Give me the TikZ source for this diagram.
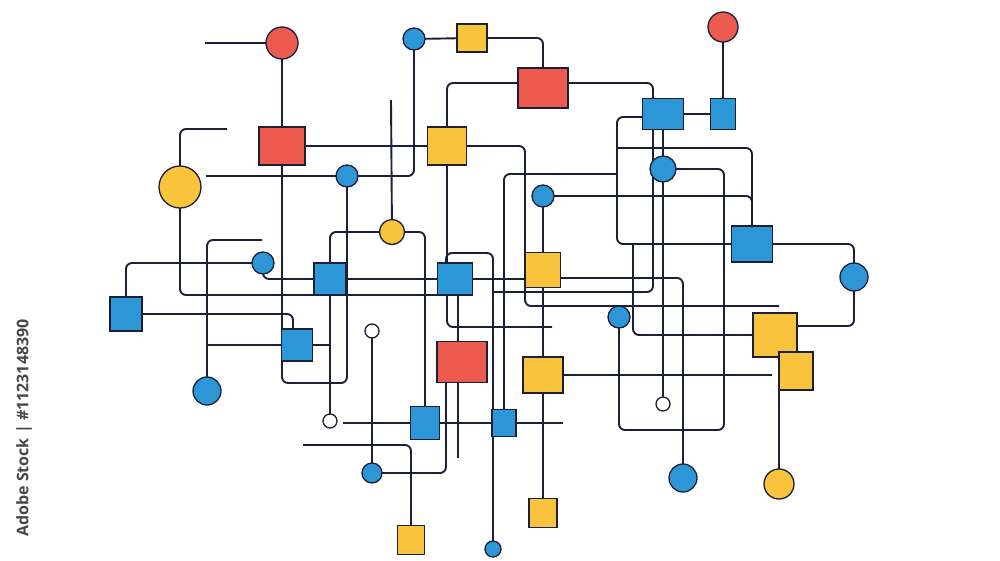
\documentclass[tikz,border=0pt]{standalone}
\usepackage{fontspec}
\setmainfont{Open Sans}
\usetikzlibrary{calc}
\definecolor{ln}{RGB}{27,31,56}
\definecolor{rd}{RGB}{237,90,78}
\definecolor{yl}{RGB}{250,195,60}
\definecolor{bl}{RGB}{45,150,214}
\pgfdeclarelayer{bg}
\pgfsetlayers{bg,main}
\tikzset{
  wire/.style={draw=ln, line width=1.9pt, rounded corners=6pt},
  shp/.style={draw=ln, line width=1.3pt, inner sep=0pt, outer sep=0pt},
  rbox/.style 2 args={shp, rectangle, minimum width=#1, minimum height=#2},
  dot/.style={shp, circle, minimum size=#1},
}
\begin{document}
\begin{tikzpicture}[x=1pt,y=-1pt]
\useasboundingbox (0,0) rectangle (1000,560);
% nodes
\node[dot=32pt, fill=rd] (A) at (282,43) {};
\node[dot=22pt, fill=bl] (B) at (414,39) {};
\node[rbox={30pt}{28pt}, fill=yl] (C) at (472,38) {};
\node[dot=30pt, fill=rd] (D) at (723,27) {};
\node[rbox={50pt}{40pt}, fill=rd] (E) at (543,88) {};
\node[rbox={41pt}{31pt}, fill=bl] (F) at (663,114) {};
\node[rbox={25pt}{31pt}, fill=bl] (G) at (723,114) {};
\node[rbox={46pt}{38pt}, fill=rd] (H) at (282,146) {};
\node[rbox={39pt}{38pt}, fill=yl] (I) at (447,146) {};
\node[dot=42pt, fill=yl] (J) at (180,187) {};
\node[dot=22pt, fill=bl] (K) at (347,176) {};
\node[dot=26pt, fill=bl] (L) at (663,169) {};
\node[dot=22pt, fill=bl] (M) at (543,196) {};
\node[dot=25pt, fill=yl] (N) at (392,232) {};
\node[rbox={41pt}{36pt}, fill=bl] (O) at (752,244) {};
\node[dot=22pt, fill=bl] (P) at (263,263) {};
\node[rbox={32pt}{32pt}, fill=bl] (Q) at (330,279) {};
\node[rbox={35pt}{32pt}, fill=bl] (R) at (455,279) {};
\node[rbox={35pt}{35pt}, fill=yl] (S) at (543,270) {};
\node[dot=28pt, fill=bl] (T) at (854,277) {};
\node[rbox={32pt}{34pt}, fill=bl] (U) at (126,314) {};
\node[dot=22pt, fill=bl] (V) at (619,317) {};
\node[rbox={44pt}{44pt}, fill=yl] (W) at (775,335) {};
\node[rbox={34pt}{38pt}, fill=yl] (X) at (796,371) {};
\node[dot=14pt, fill=white] (Y) at (372,331) {};
\node[rbox={31pt}{32pt}, fill=bl] (Z) at (297,345) {};
\node[rbox={50pt}{41pt}, fill=rd] (AA) at (462,362) {};
\node[rbox={40pt}{36pt}, fill=yl] (AB) at (543,375) {};
\node[dot=28pt, fill=bl] (AC) at (207,391) {};
\node[dot=14pt, fill=white] (AD) at (330,421) {};
\node[rbox={29pt}{33pt}, fill=bl] (AE) at (425,423) {};
\node[rbox={24pt}{27pt}, fill=bl] (AF) at (504,423) {};
\node[dot=14pt, fill=white] (AG) at (663,404) {};
\node[dot=20pt, fill=bl] (AH) at (372,473) {};
\node[dot=28pt, fill=bl] (AI) at (683,478) {};
\node[dot=30pt, fill=yl] (AJ) at (779,484) {};
\node[rbox={27pt}{29pt}, fill=yl] (AK) at (411,540) {};
\node[rbox={28pt}{29pt}, fill=yl] (AL) at (543,513) {};
\node[dot=16pt, fill=bl] (AM) at (493,549) {};
% free ends / junctions
\coordinate (c1) at (205,43);
\coordinate (cJ) at (227,129);
\coordinate (cK) at (206,176);
\coordinate (j1) at (617,148);
\coordinate (j2) at (617,174);
\coordinate (j3) at (493,292);
\coordinate (j4) at (446,270);
\coordinate (j5) at (552,327);
\coordinate (j6) at (633,244);
\coordinate (c2) at (262,240);
\coordinate (j7) at (207,345);
\coordinate (j8) at (330,345);
\coordinate (c3) at (391,100);
\coordinate (c4) at (458,458);
\coordinate (c5) at (343,423);
\coordinate (c6) at (563,423);
\coordinate (c7) at (303,445);
\coordinate (c8) at (772,375);
\coordinate (c9) at (779,306);
\node[rotate=90, font=\fontsize{16}{16}\selectfont\bfseries, text=black!72] (wm) at (24,428) {Adobe Stock | \#1123148390};
\begin{pgfonlayer}{bg}
\fill[white] (0,0) rectangle (1000,560);
\draw[wire] (c1) -- (A);
\draw[wire] (A) -- (H);
\draw[wire] (H) -- (I);
\draw[wire] (I.east) -- (525,146) -- (525,306) -- (c9);
\draw[wire] (J) |- (cJ);
\draw[wire] (cK) -- (K);
\draw[wire] (B) |- (K);
\draw[wire] (B) -- (C);
\draw[wire] (C) -| (E);
\draw[wire] ([yshift=5pt]E.west) -| (I);
\draw[wire] ([yshift=5pt]E.east) -| ([xshift=-10pt]F.north);
\draw[wire] (F) -- (G);
\draw[wire] (G) -- (D);
\draw[wire] ([yshift=-3pt]F.west) -- (617,117) -- (617,244) -- (O.west);
\draw[wire] (j1) -| (O);
\draw[wire] (M) -| (O);
\draw[wire] (M) -- (S);
\draw[wire] (S) -- (AB);
\draw[wire] (AB) -- (AL);
\draw[wire] (AF) |- (j2);
\draw[wire] (F) -- (L);
\draw[wire] (L) -- (AG);
\draw[wire] ([xshift=-10pt]F.south) -- (653,292) -- (j3);
\draw[wire] (j4) -- (446,253) -- (493,253) -- (AM);
\draw[wire] (I) |- (j5);
\draw[wire] (L.east) -- (724,169) -- (724,430) -- (619,430) -- (V);
\draw[wire] (j6) |- (W);
\draw[wire] ([yshift=-8pt]S.east) -| (AI);
\draw[wire] (P) |- (Q);
\draw[wire] (Q) -- (R);
\draw[wire] (R.east) -- (S.west |- R.east);
\draw[wire] (J) |- (R.south west);
\draw[wire] (P) -| (U);
\draw[wire] (U) -| ([xshift=-4pt]Z.north);
\draw[wire] (AC) |- (c2);
\draw[wire] (j7) -- (Z);
\draw[wire] (Z) -- (j8);
\draw[wire] (N) -| (AD);
\draw[wire] (N) -| (AE);
\draw[wire] (N) -- (c3);
\draw[wire] (H) -- (282,383) -- (347,383) -- (K);
\draw[wire] (Y) -- (AH);
\draw[wire] ([xshift=-16pt]AA.south) |- (AH);
\draw[wire] ([xshift=-4pt]AA.south) -- (c4);
\draw[wire] ([xshift=3pt]R.south) -- ([xshift=-4pt]AA.north);
\draw[wire] (c5) -- (AE);
\draw[wire] (AE) -- (AF);
\draw[wire] (AF) -- (c6);
\draw[wire] (c7) -| (AK);
\draw[wire] (AB) -- (c8);
\draw[wire] ([xshift=-17pt]X.south) -- (AJ);
\draw[wire] (O) -| (T);
\draw[wire] (T) |- ([yshift=9pt]W.east);
\end{pgfonlayer}
\end{tikzpicture}
\end{document}
